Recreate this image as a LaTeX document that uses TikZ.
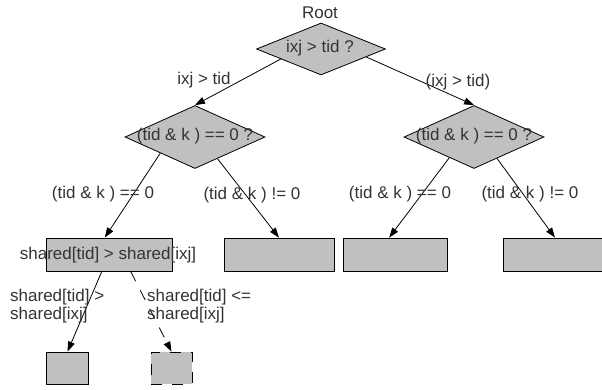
\documentclass[tikz,border=0pt]{standalone}
\usepackage{fontspec}
\setmainfont{Liberation Sans}
\usetikzlibrary{shapes.geometric,arrows.meta}
\definecolor{boxgrey}{HTML}{C0C0C0}
\definecolor{txt}{HTML}{333333}

\begin{document}
\begin{tikzpicture}[x=1pt,y=-1pt,
  every node/.style={font=\fontsize{17}{18}\selectfont, text=txt},
  test/.style={diamond, draw=black, fill=boxgrey, inner sep=0pt, line width=0.8pt},
  leaf/.style={rectangle, draw=black, fill=boxgrey, inner sep=0pt, line width=0.8pt},
  tag/.style={inner sep=0pt},
  flow/.style={draw=black, line width=0.8pt, -{Triangle[length=10pt,width=7pt]}},
  maybe/.style={dash pattern=on 11pt off 10pt},
]
\useasboundingbox (0,0) rectangle (602,390);
\clip (0,0) rectangle (602,390);

% decision nodes
\node[test, minimum width=129pt, minimum height=52pt] (root) at (321,49) {};
\node[test, minimum width=140pt, minimum height=63pt] (ld) at (195,137) {};
\node[test, minimum width=140pt, minimum height=63pt] (rd) at (474,137) {};

% leaves
\node[leaf, minimum width=126pt, minimum height=33pt] (b1) at (109,254.5) {};
\node[leaf, minimum width=110pt, minimum height=33pt] (b2) at (279,254.5) {};
\node[leaf, minimum width=104pt, minimum height=33pt] (b3) at (395,254.5) {};
\node[leaf, minimum width=104pt, minimum height=33pt] (b4) at (555,254.5) {};
\node[leaf, minimum width=42pt, minimum height=32pt] (b5) at (67.5,368) {};
\node[leaf, maybe, minimum width=41pt, minimum height=32pt] (b6) at (171.5,368) {};

% branches
\draw[flow] (root.194) -- (ld.north);
\draw[flow] (root.-10) -- (rd.north);
\draw[flow] (ld.205) -- (b1.104);
\draw[flow] (ld.-44) -- (b2.north);
\draw[flow] (rd.220) -- (b3.109);
\draw[flow] (rd.-43) -- (b4.north);
\draw[flow] (b1.247) -- (b5.north);
\draw[flow, maybe] (b1.-38) -- (b6.north);

% texts
\node[tag] (rootlbl) at (320,13) {Root};
\node[tag] (t0) at (320,48) {ixj > tid ?};
\node[tag] (t1) at (195,136) {(tid \& k ) == 0 ?};
\node[tag] (t2) at (474,136) {(tid \& k ) == 0 ?};
\node[tag] (t3) at (108,255) {shared[tid] > shared[ixj]};
\node[tag] (e1) at (204,80) {ixj > tid};
\node[tag] (e2) at (458,82) {(ixj > tid)};
\node[tag] (e3) at (103,194) {(tid \& k ) == 0};
\node[tag] (e4) at (252,195) {(tid \& k ) != 0};
\node[tag] (e5) at (400,194) {(tid \& k ) == 0};
\node[tag] (e6) at (530,194) {(tid \& k ) != 0};
\node[tag, anchor=west, align=left] (e7) at (10,306) {shared[tid] >\\shared[ixj]};
\node[tag, anchor=west, align=left] (e8) at (147,306) {shared[tid] <=\\shared[ixj]};
\end{tikzpicture}
\end{document}
